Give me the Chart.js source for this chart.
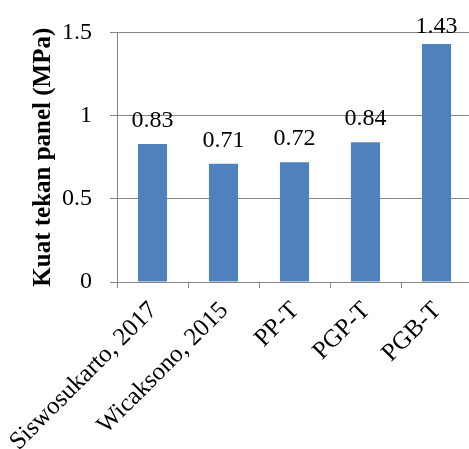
<!DOCTYPE html>
<html>
<head>
<meta charset="utf-8">
<script src="https://cdn.jsdelivr.net/npm/chart.js@4/dist/chart.umd.min.js"></script>
<style>
  html, body { margin: 0; padding: 0; background: #ffffff; overflow: hidden; }
  #wrap { position: relative; width: 472px; height: 449px; }
</style>
</head>
<body>
<div id="wrap"><canvas id="chart"></canvas></div>
<script>
// Compressive strength of panels (MPa)
const categories = ['Siswosukarto, 2017', 'Wicaksono, 2015', 'PP-T', 'PGP-T', 'PGB-T'];
const strengthValues = [0.83, 0.71, 0.72, 0.84, 1.43];
const yTicks = [0, 0.5, 1, 1.5];

const axisGray = '#868686';
const barBlue = '#4F81BD';
const serif = "'Liberation Serif', 'Times New Roman', Times, serif";

// Value labels above each bar, kept inside the top of the canvas
const valueLabels = {
  id: 'valueLabels',
  afterDatasetsDraw(chart) {
    const ctx = chart.ctx;
    const meta = chart.getDatasetMeta(0);
    const data = chart.data.datasets[0].data;
    ctx.save();
    ctx.font = '24px ' + serif;
    ctx.fillStyle = '#000000';
    ctx.textAlign = 'center';
    ctx.textBaseline = 'alphabetic';
    meta.data.forEach((bar, i) => {
      const baseline = Math.max(bar.y - 17, chart.chartArea.top + 1);
      ctx.fillText(String(data[i]), bar.x, baseline);
    });
    ctx.restore();
  }
};

new Chart(document.getElementById('chart'), {
  type: 'bar',
  data: {
    labels: categories,
    datasets: [{
      data: strengthValues,
      backgroundColor: barBlue,
      borderWidth: 0,
      categoryPercentage: 1,
      barPercentage: 0.41
    }]
  },
  options: {
    responsive: true,
    maintainAspectRatio: false,
    animation: false,
    layout: { padding: { top: 25, left: 0, right: 0, bottom: 0 } },
    plugins: {
      legend: { display: false },
      tooltip: { enabled: false }
    },
    scales: {
      x: {
        grid: {
          display: true,
          offset: true,
          drawOnChartArea: false,
          drawTicks: true,
          tickLength: 6,
          color: axisGray,
          lineWidth: 1
        },
        border: { display: true, color: axisGray, width: 1 },
        ticks: {
          color: '#000000',
          font: { family: serif, size: 25 },
          minRotation: 45,
          maxRotation: 45,
          autoSkip: false,
          padding: 8,
          labelOffset: 1
        },
        afterFit(scale) {
          scale.height = 167;
          // rotated category labels may spill past the plot edges
          scale.paddingLeft = 0;
          scale.paddingRight = 0;
        }
      },
      y: {
        min: 0,
        max: 1.5,
        afterBuildTicks(scale) {
          scale.ticks = yTicks.map(v => ({ value: v }));
        },
        grid: {
          display: true,
          drawOnChartArea: true,
          drawTicks: true,
          tickLength: 7,
          color: axisGray,
          lineWidth: 1
        },
        border: { display: true, color: axisGray, width: 1 },
        ticks: {
          color: '#000000',
          font: { family: serif, size: 24 },
          padding: 18,
          callback: v => String(v)
        },
        title: {
          display: true,
          text: 'Kuat tekan panel (MPa)',
          color: '#000000',
          font: { family: serif, size: 25, weight: 'bold' },
          padding: { top: 29, bottom: 0 }
        },
        afterFit(scale) { scale.width = 117; }
      }
    }
  },
  plugins: [valueLabels]
});
</script>
</body>
</html>
